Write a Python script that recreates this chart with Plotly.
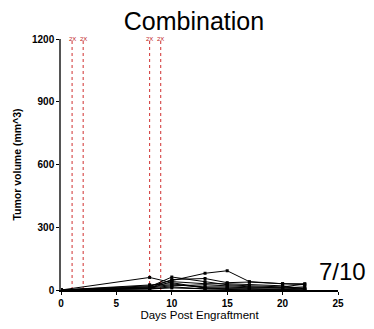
import plotly.graph_objects as go

days = [0, 8, 10, 13, 15, 17, 20, 22]
series = {
    "M1": [0, 60, 35, 10, 5, 5, 3, 0],
    "M2": [0, 20, 45, 80, 92, 40, 30, 30],
    "M3": [0, 15, 62, 40, 25, 20, 15, 28],
    "M4": [0, 10, 50, 55, 35, 38, 30, 25],
    "M5": [0, 25, 30, 10, 10, 10, 10, 15],
    "M6": [0, 10, 20, 25, 20, 15, 10, 5],
    "M7": [0, 5, 15, 5, 5, 5, 0, 0],
    "M8": [0, 15, 25, 15, 15, 10, 10, 10],
    "M9": [0, 5, 10, 5, 0, 0, 0, 0],
    "M10": [0, 8, 40, 30, 30, 25, 20, 5],
}
dose_days = [1, 2, 8, 9]
dose_label = "2X"
x_ticks = [0, 5, 10, 15, 20, 25]
y_ticks = [0, 300, 600, 900, 1200]

fig = go.Figure()
for name, vals in series.items():
    fig.add_trace(go.Scatter(
        x=days, y=vals, mode="lines+markers", name=name,
        line=dict(color="black", width=1),
        marker=dict(color="black", size=3, symbol="square"),
        showlegend=False, cliponaxis=False,
    ))

for d in dose_days:
    fig.add_shape(type="line", x0=d, x1=d, y0=0, y1=1200, xref="x", yref="y",
                  line=dict(color="#d03030", width=1, dash="dot"), layer="below")
    fig.add_annotation(x=d, y=1200, xref="x", yref="y", text=dose_label,
                       showarrow=False, yanchor="middle",
                       font=dict(color="#c02020", size=6, family="Liberation Sans"))

fig.add_annotation(x=1.0, y=0.01, xref="paper", yref="paper", text="7/10",
                   showarrow=False, xanchor="left", yanchor="bottom", xshift=-21,
                   font=dict(size=24, color="black", family="Liberation Sans"))

fig.update_layout(
    width=366, height=321,
    margin=dict(l=53, r=36, t=31, b=39),
    paper_bgcolor="white", plot_bgcolor="white",
    title=dict(text="Combination", x=0.508, xanchor="center",
               yref="container", y=0.985, yanchor="top",
               font=dict(size=25, color="black", family="Liberation Sans")),
    font=dict(family="Liberation Sans", color="black"),
)
fig.update_xaxes(range=[0, 25], tickvals=x_ticks, showgrid=False, zeroline=False,
                 automargin=False,
                 showline=True, linecolor="black", linewidth=1.5,
                 ticks="outside", ticklen=3, tickcolor="black",
                 tickfont=dict(size=10, family="Liberation Sans", weight="bold"),
                 title=dict(text="Days Post Engraftment", standoff=3,
                            font=dict(size=11.5, family="Liberation Sans")))
fig.update_yaxes(range=[0, 1200], tickvals=y_ticks, showgrid=False, zeroline=False,
                 automargin=False,
                 showline=True, linecolor="#555555", linewidth=1.5,
                 ticks="outside", ticklen=3, tickcolor="black",
                 tickfont=dict(size=10, family="Liberation Sans", weight="bold"),
                 title=dict(text="Tumor volume (mm^3)", standoff=8,
                            font=dict(size=10.5, family="Liberation Sans", weight="bold")))

fig.write_html("out.html")
